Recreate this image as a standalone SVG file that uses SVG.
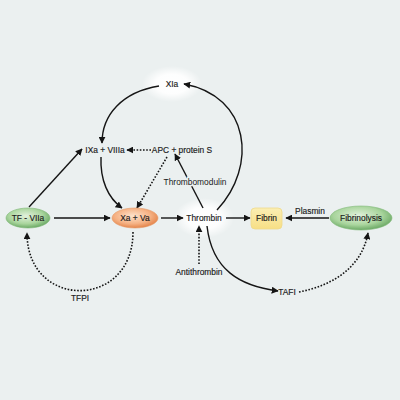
<svg xmlns="http://www.w3.org/2000/svg" width="400" height="400" viewBox="0 0 400 400">
<defs>
<radialGradient id="glow"><stop offset="0" stop-color="#ffffff"/><stop offset="0.55" stop-color="#ffffff" stop-opacity="0.9"/><stop offset="1" stop-color="#ffffff" stop-opacity="0"/></radialGradient>
<radialGradient id="green" cx="0.45" cy="0.4" r="0.65"><stop offset="0" stop-color="#e2f1dc"/><stop offset="0.6" stop-color="#a9d59d"/><stop offset="1" stop-color="#5fa05a"/></radialGradient>
<radialGradient id="orange" cx="0.45" cy="0.4" r="0.65"><stop offset="0" stop-color="#fde3cc"/><stop offset="0.6" stop-color="#f5b183"/><stop offset="1" stop-color="#e07a3e"/></radialGradient>
<linearGradient id="yellow" x1="0" y1="0" x2="0" y2="1"><stop offset="0" stop-color="#fbeeb3"/><stop offset="1" stop-color="#f7df85"/></linearGradient>
<marker id="ah" viewBox="0 0 10 10" refX="9" refY="5" markerWidth="7" markerHeight="7" markerUnits="userSpaceOnUse" orient="auto"><path d="M0,0 L10,5 L0,10 Z" fill="#151515"/></marker>
</defs>
<style>
text{font-family:"Liberation Sans","DejaVu Sans",sans-serif;font-size:8.4px;fill:#1a1a1a;stroke:#1a1a1a;stroke-width:0.15;text-anchor:middle}
.c{fill:none;stroke:#151515;stroke-width:1.4;marker-end:url(#ah)}
.d{fill:none;stroke:#151515;stroke-width:1.6;stroke-dasharray:1.6 1.6;marker-end:url(#ah)}
text.halo{stroke:#ebf0f0;stroke-width:3;paint-order:stroke}
</style>
<rect width="400" height="400" fill="#ebf0f0"/>
<ellipse cx="172" cy="84" rx="30" ry="18" fill="url(#glow)"/>
<ellipse cx="204" cy="218" rx="30" ry="20" fill="url(#glow)"/>
<g id="connectors">
<path class="c" d="M217,210 C258,166 250,96 184,84"/>
<path class="c" d="M159,86 C122,92 102,115 102,143"/>
<path class="c" d="M101,157 C100,180 108,198 122,208"/>
<path class="c" d="M29,207 L82,149"/>
<path class="c" d="M54,218 L110,218"/>
<path class="c" d="M161,218 L183,218"/>
<path class="c" d="M203,208 L175,154"/>
<path class="c" d="M226,218 L250,218"/>
<path class="c" d="M329,218 L286,218"/>
<path class="c" d="M207,226 C212,270 240,286 278,291"/>
<path class="d" d="M151,150 L127,150"/>
<path class="d" d="M167,157 L137,208"/>
<path class="d" d="M199,264 L199,226"/>
<path class="d" d="M133,232 C133,310 27,310 27,233"/>
<path class="d" d="M299,292 C335,285 362,266 368,233"/>
</g>
<g id="XIa"><text x="172" y="87">XIa</text></g>
<g id="IXa"><text x="105" y="153">IXa + VIIIa</text></g>
<g id="APC"><text x="182" y="153">APC + protein S</text></g>
<g id="Thrombomodulin"><text class="halo" x="195" y="185">Thrombomodulin</text></g>
<g id="TF"><ellipse cx="28" cy="218" rx="22" ry="10" fill="url(#green)" stroke="#7fb877" stroke-width="0.6"/><text x="28" y="221">TF - VIIa</text></g>
<g id="Xa"><ellipse cx="135" cy="218" rx="23" ry="10" fill="url(#orange)" stroke="#e69a68" stroke-width="0.6"/><text x="135" y="221">Xa + Va</text></g>
<g id="Thrombin"><text x="204" y="221">Thrombin</text></g>
<g id="Fibrin"><rect x="251" y="208" width="31" height="21" rx="4" fill="url(#yellow)" stroke="#efd98a" stroke-width="0.8"/><text x="266.5" y="221">Fibrin</text></g>
<g id="Fibrinolysis"><ellipse cx="361" cy="218" rx="31" ry="12" fill="url(#green)" stroke="#7fb877" stroke-width="0.6"/><text x="361" y="221">Fibrinolysis</text></g>
<g id="Plasmin"><text x="310" y="214">Plasmin</text></g>
<g id="Antithrombin"><text x="199" y="275">Antithrombin</text></g>
<g id="TFPI"><text x="80" y="301">TFPI</text></g>
<g id="TAFI"><text x="287" y="295">TAFI</text></g>
</svg>
